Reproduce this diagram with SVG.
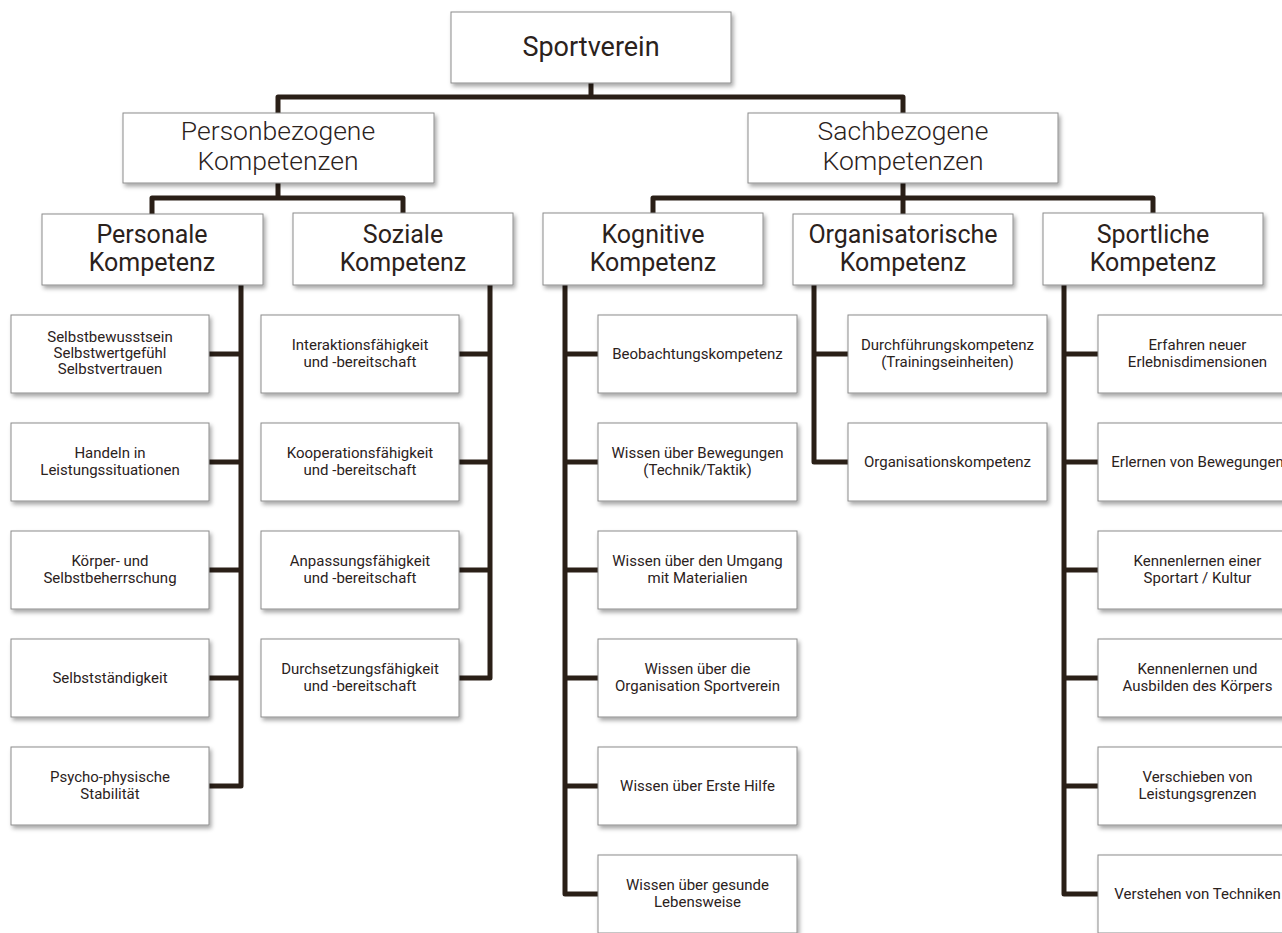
<svg xmlns="http://www.w3.org/2000/svg" width="1282" height="933" viewBox="0 0 1282 933">
<defs>
<filter id="sh" x="-10%" y="-10%" width="125%" height="135%">
<feDropShadow dx="2" dy="3" stdDeviation="2" flood-color="#000" flood-opacity="0.35"/>
</filter>
<style>
.box{fill:#fff;stroke:#8c8c8c;stroke-width:1;filter:url(#sh)}
.t{font-family:Roboto,"Open Sans",sans-serif;fill:#2b221c;text-anchor:middle}
.t0{font-size:27px;font-weight:400}
.t1{font-size:26.5px;font-weight:300}
.t2{font-size:25px}
.t3{font-size:15px}
.ln{fill:none;stroke:#2a1f17;stroke-width:5;stroke-linejoin:round;stroke-linecap:butt}
</style>
</defs>
<rect width="1282" height="933" fill="#fff"/>
<g id="connectors" class="ln">
<path d="M591,83 V97"/>
<path d="M278,113 V97 H903 V113"/>
<path d="M278,183 V198"/>
<path d="M152,214 V198 H403 V213"/>
<path d="M903,183 V214"/>
<path d="M653,213 V198 H1153 V213"/>
<path d="M241,285 V786 H209"/>
<path d="M209,354 H241 M209,462 H241 M209,570 H241 M209,678 H241"/>
<path d="M490,285 V678 H459"/>
<path d="M459,354 H490 M459,462 H490 M459,570 H490"/>
<path d="M565,285 V894 H598"/>
<path d="M565,354 H598 M565,462 H598 M565,570 H598 M565,678 H598 M565,786 H598"/>
<path d="M814,285 V462 H848"/>
<path d="M814,354 H848"/>
<path d="M1064,285 V894 H1098"/>
<path d="M1064,354 H1098 M1064,462 H1098 M1064,570 H1098 M1064,678 H1098 M1064,786 H1098"/>
</g>
<g id="n-sportverein"><rect class="box" x="451" y="12" width="280" height="71"/><text class="t t0" x="591" y="56">Sportverein</text></g>
<g id="n-person"><rect class="box" x="123" y="113" width="311" height="70"/><text class="t t1" x="278" y="140">Personbezogene<tspan x="278" dy="30">Kompetenzen</tspan></text></g>
<g id="n-sach"><rect class="box" x="748" y="113" width="310" height="70"/><text class="t t1" x="903" y="140">Sachbezogene<tspan x="903" dy="30">Kompetenzen</tspan></text></g>
<g id="n-personale"><rect class="box" x="42" y="214" width="221" height="71"/><text class="t t2" x="152" y="243">Personale<tspan x="152" dy="28">Kompetenz</tspan></text></g>
<g id="n-soziale"><rect class="box" x="293" y="213" width="220" height="72"/><text class="t t2" x="403" y="243">Soziale<tspan x="403" dy="28">Kompetenz</tspan></text></g>
<g id="n-kognitive"><rect class="box" x="543" y="213" width="220" height="72"/><text class="t t2" x="653" y="243">Kognitive<tspan x="653" dy="28">Kompetenz</tspan></text></g>
<g id="n-organisatorische"><rect class="box" x="793" y="214" width="220" height="71"/><text class="t t2" x="903" y="243">Organisatorische<tspan x="903" dy="28">Kompetenz</tspan></text></g>
<g id="n-sportliche"><rect class="box" x="1043" y="213" width="220" height="72"/><text class="t t2" x="1153" y="243">Sportliche<tspan x="1153" dy="28">Kompetenz</tspan></text></g>

<g id="n-p1"><rect class="box" x="11" y="315" width="198" height="78"/><text class="t t3" x="110" y="342">Selbstbewusstsein<tspan x="110" dy="16">Selbstwertgefühl</tspan><tspan x="110" dy="16">Selbstvertrauen</tspan></text></g>
<g id="n-p2"><rect class="box" x="11" y="423" width="198" height="78"/><text class="t t3" x="110" y="457.5">Handeln in<tspan x="110" dy="17">Leistungssituationen</tspan></text></g>
<g id="n-p3"><rect class="box" x="11" y="531" width="198" height="78"/><text class="t t3" x="110" y="565.5">Körper- und<tspan x="110" dy="17">Selbstbeherrschung</tspan></text></g>
<g id="n-p4"><rect class="box" x="11" y="639" width="198" height="78"/><text class="t t3" x="110" y="683">Selbstständigkeit</text></g>
<g id="n-p5"><rect class="box" x="11" y="747" width="198" height="78"/><text class="t t3" x="110" y="781.5">Psycho-physische<tspan x="110" dy="17">Stabilität</tspan></text></g>

<g id="n-s1"><rect class="box" x="261" y="315" width="198" height="78"/><text class="t t3" x="360" y="349.5">Interaktionsfähigkeit<tspan x="360" dy="17">und -bereitschaft</tspan></text></g>
<g id="n-s2"><rect class="box" x="261" y="423" width="198" height="78"/><text class="t t3" x="360" y="457.5">Kooperationsfähigkeit<tspan x="360" dy="17">und -bereitschaft</tspan></text></g>
<g id="n-s3"><rect class="box" x="261" y="531" width="198" height="78"/><text class="t t3" x="360" y="565.5">Anpassungsfähigkeit<tspan x="360" dy="17">und -bereitschaft</tspan></text></g>
<g id="n-s4"><rect class="box" x="261" y="639" width="198" height="78"/><text class="t t3" x="360" y="673.5">Durchsetzungsfähigkeit<tspan x="360" dy="17">und -bereitschaft</tspan></text></g>

<g id="n-k1"><rect class="box" x="598" y="315" width="199" height="78"/><text class="t t3" x="697.5" y="359">Beobachtungskompetenz</text></g>
<g id="n-k2"><rect class="box" x="598" y="423" width="199" height="78"/><text class="t t3" x="697.5" y="457.5">Wissen über Bewegungen<tspan x="697.5" dy="17">(Technik/Taktik)</tspan></text></g>
<g id="n-k3"><rect class="box" x="598" y="531" width="199" height="78"/><text class="t t3" x="697.5" y="565.5">Wissen über den Umgang<tspan x="697.5" dy="17">mit Materialien</tspan></text></g>
<g id="n-k4"><rect class="box" x="598" y="639" width="199" height="78"/><text class="t t3" x="697.5" y="673.5">Wissen über die<tspan x="697.5" dy="17">Organisation Sportverein</tspan></text></g>
<g id="n-k5"><rect class="box" x="598" y="747" width="199" height="78"/><text class="t t3" x="697.5" y="791">Wissen über Erste Hilfe</text></g>
<g id="n-k6"><rect class="box" x="598" y="855" width="199" height="78"/><text class="t t3" x="697.5" y="889.5">Wissen über gesunde<tspan x="697.5" dy="17">Lebensweise</tspan></text></g>

<g id="n-o1"><rect class="box" x="848" y="315" width="199" height="78"/><text class="t t3" x="947.5" y="349.5">Durchführungskompetenz<tspan x="947.5" dy="17">(Trainingseinheiten)</tspan></text></g>
<g id="n-o2"><rect class="box" x="848" y="423" width="199" height="78"/><text class="t t3" x="947.5" y="467">Organisationskompetenz</text></g>

<g id="n-sp1"><rect class="box" x="1098" y="315" width="199" height="78"/><text class="t t3" x="1197.5" y="349.5">Erfahren neuer<tspan x="1197.5" dy="17">Erlebnisdimensionen</tspan></text></g>
<g id="n-sp2"><rect class="box" x="1098" y="423" width="199" height="78"/><text class="t t3" x="1197.5" y="467">Erlernen von Bewegungen</text></g>
<g id="n-sp3"><rect class="box" x="1098" y="531" width="199" height="78"/><text class="t t3" x="1197.5" y="565.5">Kennenlernen einer<tspan x="1197.5" dy="17">Sportart / Kultur</tspan></text></g>
<g id="n-sp4"><rect class="box" x="1098" y="639" width="199" height="78"/><text class="t t3" x="1197.5" y="673.5">Kennenlernen und<tspan x="1197.5" dy="17">Ausbilden des Körpers</tspan></text></g>
<g id="n-sp5"><rect class="box" x="1098" y="747" width="199" height="78"/><text class="t t3" x="1197.5" y="781.5">Verschieben von<tspan x="1197.5" dy="17">Leistungsgrenzen</tspan></text></g>
<g id="n-sp6"><rect class="box" x="1098" y="855" width="199" height="78"/><text class="t t3" x="1197.5" y="899">Verstehen von Techniken</text></g>
</svg>
